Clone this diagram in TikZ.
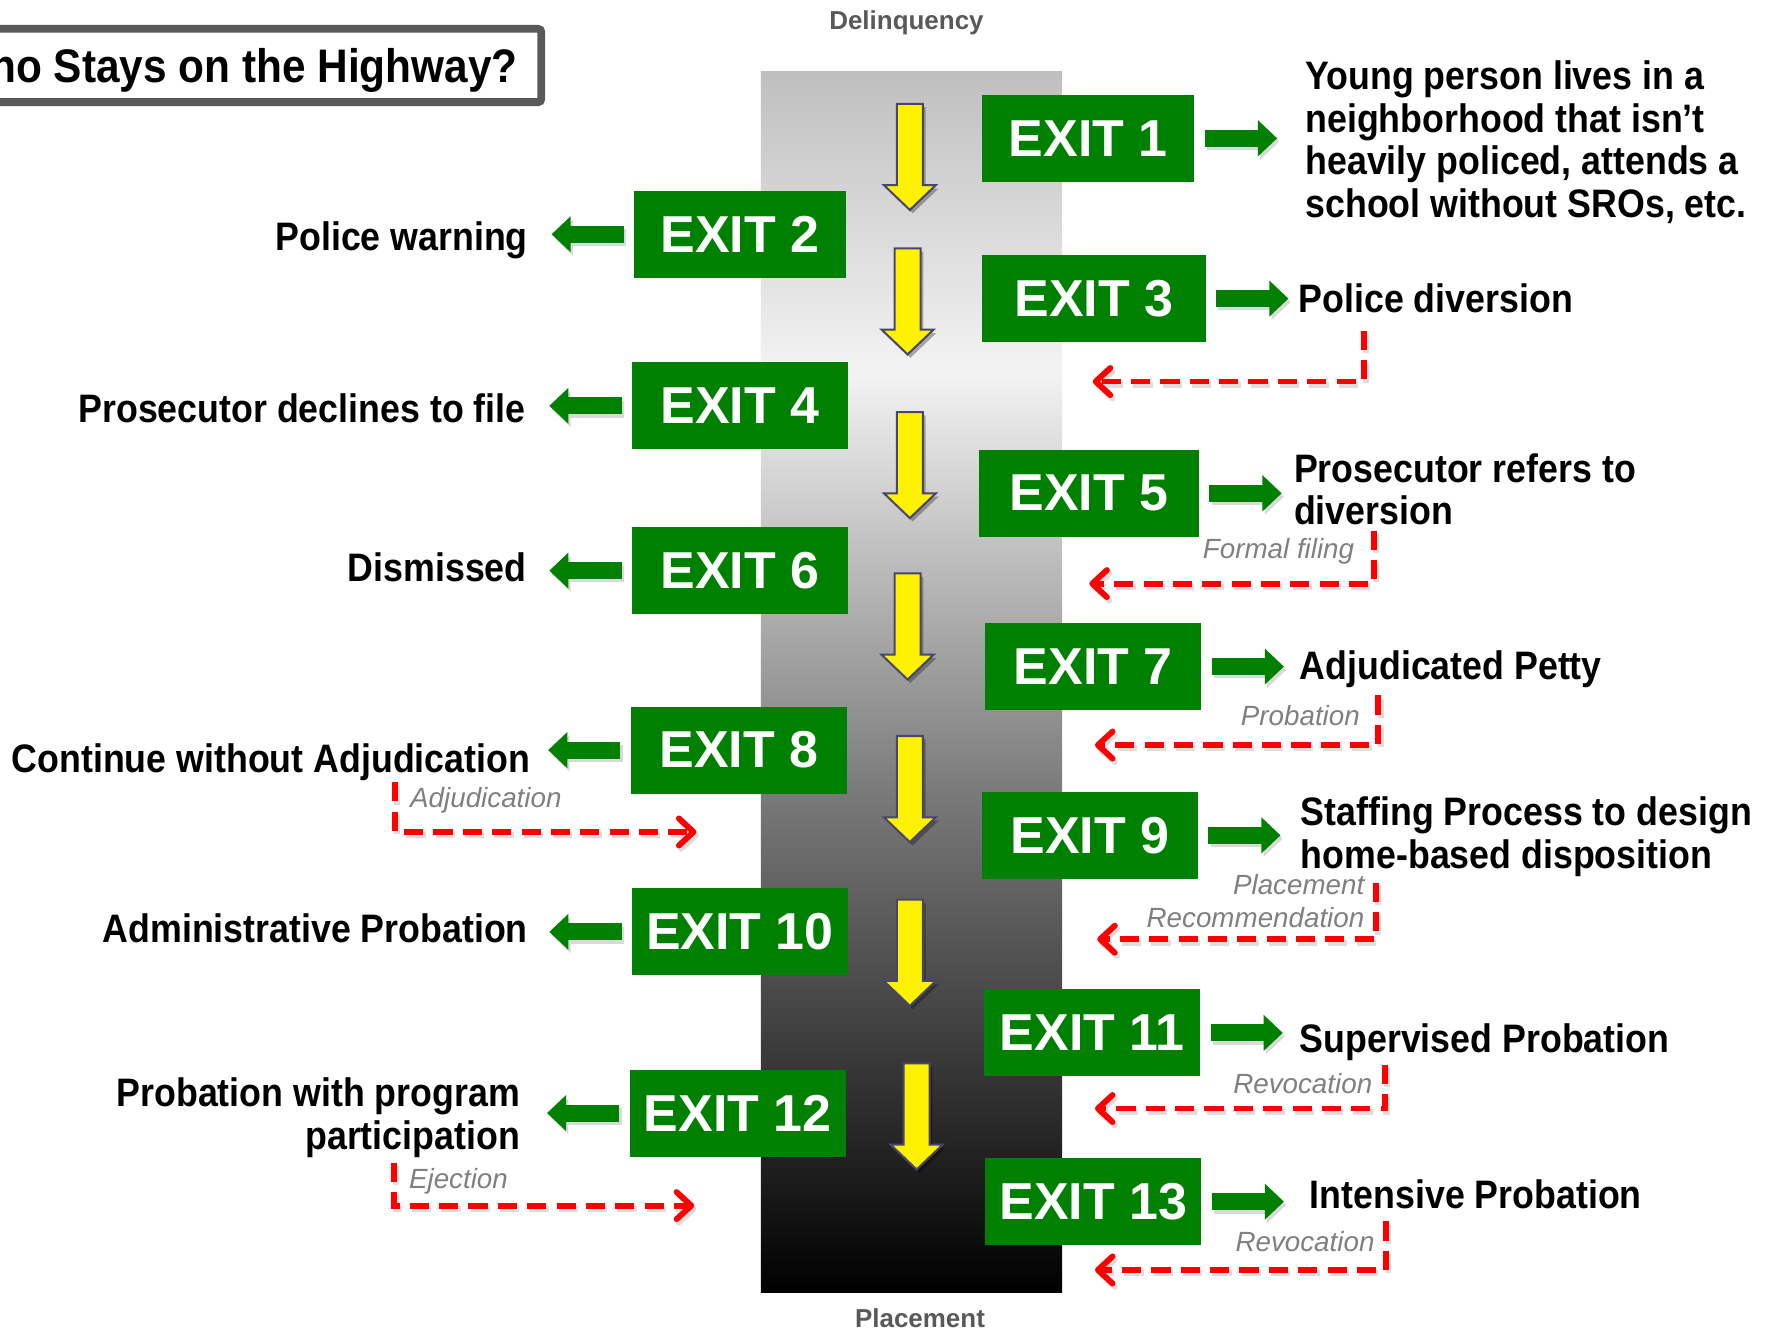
\documentclass[tikz,border=0pt]{standalone}
\usepackage{fontspec}
\setmainfont{Liberation Sans}
\newfontfamily\signfont{Liberation Sans}[FakeStretch=0.9]
\usetikzlibrary{arrows.meta}

\definecolor{exitgreen}{RGB}{0,128,0}
\definecolor{captiongray}{RGB}{89,89,89}
\definecolor{notegray}{RGB}{128,128,128}
\definecolor{arrowrim}{RGB}{72,70,110}
\definecolor{hwtop}{RGB}{191,191,191}
\definecolor{hwlight}{RGB}{243,243,243}
\definecolor{hwmid}{RGB}{122,122,122}
\definecolor{signred}{RGB}{255,0,0}

% road surface: grey at the top, bright near the first exits, black at the end
\pgfdeclareverticalshading{highway}{100bp}{%
  color(0bp)=(black); color(25bp)=(black);
  color(45.5bp)=(hwmid); color(62.7bp)=(hwlight);
  color(75bp)=(hwtop); color(100bp)=(hwtop)}

\tikzset{
  exitbox/.style={fill=exitgreen, text=white, inner sep=0pt,
    minimum height=38.5pt, minimum width=95.5pt,
    font=\fontsize{23pt}{27pt}\selectfont\bfseries},
  sidelabel/.style={inner sep=0pt, text=black,
    font=\signfont\fontsize{17.6pt}{19pt}\selectfont\bfseries},
  notelabel/.style={inner sep=0pt, text=notegray,
    font=\fontsize{12.3pt}{15pt}\selectfont\itshape},
  endlabel/.style={inner sep=0pt, text=captiongray,
    font=\fontsize{11.5pt}{14pt}\selectfont\bfseries},
  exitarrow/.style={line width=7.5pt, draw=exitgreen,
    -{Triangle[length=8.5pt,width=15.5pt]}},
  exitshadow/.style={line width=7.5pt, draw=black!15,
    -{Triangle[length=8.5pt,width=15.5pt]}},
  returnline/.style={line width=2.6pt, draw=signred,
    dash pattern=on 8.5pt off 4.5pt,
    -{Straight Barb[length=6.5pt,width=12pt,round]}},
  returnshadow/.style={line width=2.6pt, draw=black!13,
    dash pattern=on 8.5pt off 4.5pt,
    -{Straight Barb[length=6.5pt,width=12pt,round]}},
  pics/lanearrow/.style={code={
    \fill[black, opacity=0.3, shift={(2.5,3)}]
      (-11.5,0) -- (11.5,0) -- (11.5,72) -- (23,72) -- (0,94)
      -- (-23,72) -- (-11.5,72) -- cycle;
    \filldraw[fill=yellow, draw=arrowrim, line width=0.9pt, line join=miter]
      (-11.5,0) -- (11.5,0) -- (11.5,72) -- (23,72) -- (0,94)
      -- (-23,72) -- (-11.5,72) -- cycle;
  }}
}

\begin{document}
\begin{tikzpicture}[x=0.5pt, y=-0.5pt]
\useasboundingbox (0,0) rectangle (1568,1179);
\clip (0,0) rectangle (1568,1179);
\fill[white] (0,0) rectangle (1568,1179);

% title panel, running off the left edge
\draw[captiongray, line width=3.5pt, fill=white, rounded corners=1.5pt]
  (-20,25.5) rectangle (479.5,90.5);
\node[anchor=base east, inner sep=0pt,
  font=\signfont\fontsize{20.85pt}{24pt}\selectfont\bfseries]
  (title) at (459,73) {Who Stays on the Highway?};

% the highway
\shade[shading=highway] (674,63) rectangle (941,1145);
\node[endlabel, anchor=base] (start) at (803,26) {Delinquency};
\node[endlabel, anchor=base] (finish) at (815,1176) {Placement};

% direction of travel
\pic at (806,92) {lanearrow};
\pic at (804,220) {lanearrow};
\pic at (806,365) {lanearrow};
\pic at (804,508) {lanearrow};
\pic at (806,652) {lanearrow};
\pic at (806,797) {lanearrow};
\pic at (812,942) {lanearrow};

% exit signs
\node[exitbox, minimum width=94pt] (e1) at (964,122.5) {EXIT 1};
\node[exitbox, minimum width=93.5pt] (e2) at (655.5,207.5) {EXIT 2};
\node[exitbox, minimum width=99pt] (e3) at (969,264.5) {EXIT 3};
\node[exitbox] (e4) at (655.5,359.5) {EXIT 4};
\node[exitbox, minimum width=97.5pt] (e5) at (964.5,437) {EXIT 5};
\node[exitbox] (e6) at (655.5,505.5) {EXIT 6};
\node[exitbox] (e7) at (968.5,590.5) {EXIT 7};
\node[exitbox] (e8) at (654.5,664.5) {EXIT 8};
\node[exitbox] (e9) at (965.5,740) {EXIT 9};
\node[exitbox] (e10) at (655.5,825.5) {EXIT 10};
\node[exitbox] (e11) at (967.5,915) {EXIT 11};
\node[exitbox] (e12) at (653.5,986) {EXIT 12};
\node[exitbox] (e13) at (968.5,1064.5) {EXIT 13};

% where each exit leads: right-hand side
\node[sidelabel, anchor=base west] (l1) at (1156,79)
  {\begin{tabular}[t]{@{}l@{}}Young person lives in a\\neighborhood that isn’t\\heavily policed, attends a\\school without SROs, etc.\end{tabular}};
\node[sidelabel, anchor=base west] (l3) at (1150,277) {Police diversion};
\node[sidelabel, anchor=base west] (l5) at (1146,427)
  {\begin{tabular}[t]{@{}l@{}}Prosecutor refers to\\diversion\end{tabular}};
\node[sidelabel, anchor=base west] (l7) at (1151,602) {Adjudicated Petty};
\node[sidelabel, anchor=base west] (l9) at (1152,731)
  {\begin{tabular}[t]{@{}l@{}}Staffing Process to design\\home-based disposition\end{tabular}};
\node[sidelabel, anchor=base west] (l11) at (1151,932) {Supervised Probation};
\node[sidelabel, anchor=base west] (l13) at (1160,1071) {Intensive Probation};

% where each exit leads: left-hand side
\node[sidelabel, anchor=base east] (l2) at (468,222) {Police warning};
\node[sidelabel, anchor=base east] (l4) at (466,374) {Prosecutor declines to file};
\node[sidelabel, anchor=base east] (l6) at (467,515) {Dismissed};
\node[sidelabel, anchor=base east] (l8) at (470,684) {Continue without Adjudication};
\node[sidelabel, anchor=base east] (l10) at (468,835) {Administrative Probation};
\node[sidelabel, anchor=base east] (l12) at (461,980)
  {\begin{tabular}[t]{@{}r@{}}Probation with program\\participation\end{tabular}};

% green exit arrows (shadow first)
\foreach \e in {e1,e3,e5,e7,e9,e11,e13}{
  \draw[exitshadow] ([shift={(11,3)}]\e.east) -- ++(64,0);
  \draw[exitarrow] ([shift={(9,0)}]\e.east) -- ++(64,0);
}
\foreach \e in {e2,e4,e6,e8,e10,e12}{
  \draw[exitshadow] ([shift={(-7,3)}]\e.west) -- ++(-64,0);
  \draw[exitarrow] ([shift={(-9,0)}]\e.west) -- ++(-64,0);
}

% re-entry notes
\node[notelabel, anchor=base east] (n5) at (1200,495) {Formal filing};
\node[notelabel, anchor=base east] (n7) at (1205,643) {Probation};
\node[notelabel, anchor=base east] (n9) at (1209,792)
  {\begin{tabular}[t]{@{}r@{}}Placement\\Recommendation\end{tabular}};
\node[notelabel, anchor=base east] (n11) at (1216,969) {Revocation};
\node[notelabel, anchor=base east] (n13) at (1218,1109) {Revocation};
\node[notelabel, anchor=base west] (n8) at (363,715) {Adjudication};
\node[notelabel, anchor=base west] (n12) at (362,1053) {Ejection};

% re-entry paths back onto the highway
\coordinate (r3a) at (1208,293);  \coordinate (r3b) at (968,338);
\coordinate (r5a) at (1217,470);  \coordinate (r5b) at (965,517);
\coordinate (r7a) at (1221,616);  \coordinate (r7b) at (970,660);
\coordinate (r9a) at (1219,782);  \coordinate (r9b) at (972,832);
\coordinate (r11a) at (1227,943); \coordinate (r11b) at (970,982);
\coordinate (r13a) at (1228,1082);\coordinate (r13b) at (970,1125);
\coordinate (r8a) at (350,693);   \coordinate (r8b) at (617,737);
\coordinate (r12a) at (349,1030); \coordinate (r12b) at (615,1068);

\foreach \r in {r3,r5,r7,r9,r11,r13,r8,r12}{
  \draw[returnshadow] ([shift={(2,3)}]\r a) |- ([shift={(2,3)}]\r b);
  \draw[returnline] (\r a) |- (\r b);
}
\end{tikzpicture}
\end{document}
